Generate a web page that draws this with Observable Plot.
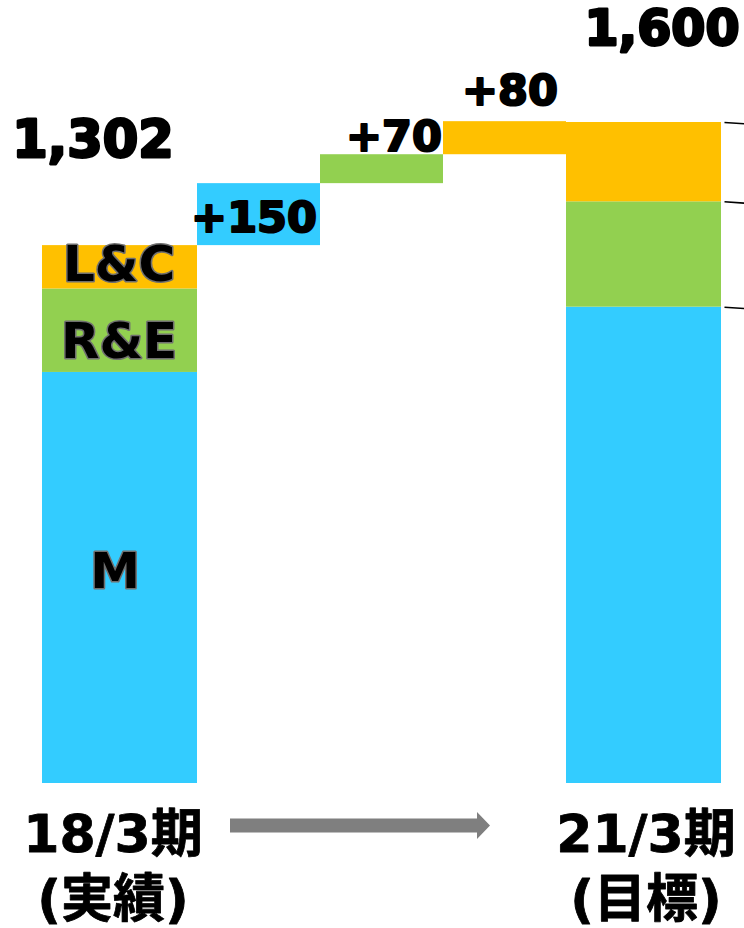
<!DOCTYPE html>
<html>
<head>
<meta charset="utf-8">
<script src="https://cdn.jsdelivr.net/npm/d3@7"></script>
<script src="https://cdn.jsdelivr.net/npm/@observablehq/plot@0.6"></script>
<style>
  html, body { margin: 0; padding: 0; background: #fff; overflow: hidden; }
</style>
</head>
<body>
<div id="chart"></div>
<script>
// Segments, stacked bottom to top
const segmentNames = ["M", "R&E", "L&C"];
const segmentColors = ["#33CCFF", "#92D050", "#FFC000"];

// 18/3期 actual and 21/3期 target, by segment
const actualBySegment = [995, 202, 105];
const targetBySegment = [1153, 255, 192];

// Planned increase per segment
const increaseBySegment = [150, 70, 80];
const increaseLabels = ["+150", "+70", "+80"];

// Period totals and their labels
const periodNames = ["18/3期\n(実績)", "21/3期\n(目標)"];
const periodTotals = [1302, 1600];
const totalLabels = ["1,302", "1,600"];

// ---- layout: column widths along a unitless x axis ----
const totalColumn = 155, stepColumn = 123;
const columns = [totalColumn, stepColumn, stepColumn, stepColumn, totalColumn];
const edges = Array.from(d3.cumsum([0, ...columns]));
const lastEdge = edges[edges.length - 1];
const mid = d => (d.x1 + d.x2) / 2;

function stackColumn(values, col) {
  let y = 0;
  return values.map((v, i) => ({
    x1: edges[col], x2: edges[col + 1],
    y1: y, y2: (y += v),
    fill: segmentColors[i], name: segmentNames[i]
  }));
}

const actualStack = stackColumn(actualBySegment, 0);
const targetStack = stackColumn(targetBySegment, 4);

let level = periodTotals[0];
const steps = increaseBySegment.map((v, i) => ({
  x1: edges[i + 1], x2: edges[i + 2],
  y1: level, y2: (level += v),
  fill: segmentColors[i], label: increaseLabels[i]
}));

const totals = periodTotals.map((v, i) => {
  const col = i === 0 ? 0 : 4;
  return {x1: edges[col], x2: edges[col + 1], value: v, label: totalLabels[i], period: periodNames[i]};
});

const numberFont = "DejaVu Sans, Verdana, sans-serif";
const periodFont = "DejaVu Sans, Noto Sans CJK JP, sans-serif";

// label nudges (dx, dy) in pixels
const insideNudge = [[-5, -6], [-1, 11], [-1, -2]];
const stepNudge = [[-5, 48], [12, -4], [5, -17]];
const totalNudge = [[-27, -89, 51], [18, -78, 49]];
const periodNudge = [-7, 2];

// heavier strokes for the numbers
const heavy = {fill: "#000", stroke: "#000", strokeWidth: 2.2, paintOrder: "stroke", strokeLinejoin: "round"};

// block arrow between the two periods
const arrowFrom = 188, arrowTo = 448;
function periodArrow(index, scales, values, dimensions) {
  const xa = scales.x(arrowFrom), xb = scales.x(arrowTo);
  const cy = dimensions.height - dimensions.marginBottom + 42.5;
  const shaft = 7, head = 13.5, headLen = 13;
  const p = d3.path();
  p.moveTo(xa, cy - shaft);
  p.lineTo(xb - headLen, cy - shaft);
  p.lineTo(xb - headLen, cy - head);
  p.lineTo(xb, cy);
  p.lineTo(xb - headLen, cy + head);
  p.lineTo(xb - headLen, cy + shaft);
  p.lineTo(xa, cy + shaft);
  p.closePath();
  return d3.create("svg:path").attr("d", p.toString()).attr("fill", "#7F7F7F").node();
}

const chart = Plot.plot({
  width: 744,
  height: 928,
  marginLeft: 42,
  marginRight: 744 - 42 - lastEdge,
  marginTop: 122,
  marginBottom: 145,
  style: {background: "#fff", overflow: "hidden"},
  x: {domain: [0, lastEdge], axis: null},
  y: {domain: [0, periodTotals[1]], axis: null},
  color: {type: "identity"},
  marks: [
    Plot.rect([...actualStack, ...steps, ...targetStack], {
      x1: "x1", x2: "x2", y1: "y1", y2: "y2", fill: "fill"
    }),
    // leader lines off the target column
    Plot.link(targetStack, {
      x1: () => lastEdge + 3, x2: () => lastEdge + 40,
      y1: "y2", y2: d => d.y2 - 6,
      stroke: "#000", strokeWidth: 1.5
    }),
    // segment names inside the actual column
    ...actualStack.map((d, i) => Plot.text([d], {
      x: mid, y: d => (d.y1 + d.y2) / 2, text: "name",
      dx: insideNudge[i][0], dy: insideNudge[i][1],
      fontSize: 50, fontWeight: "bold", fontFamily: numberFont,
      fill: "#000", stroke: "#6f6f6f", strokeWidth: 3, paintOrder: "stroke", strokeLinejoin: "round"
    })),
    // increase labels
    ...steps.map((d, i) => Plot.text([d], {
      x: mid, y: "y2", text: "label", lineAnchor: "bottom",
      dx: stepNudge[i][0], dy: stepNudge[i][1],
      fontSize: 43, fontWeight: "bold", fontFamily: numberFont, ...heavy
    })),
    // totals
    ...totals.map((d, i) => Plot.text([d], {
      x: mid, y: "value", text: "label", lineAnchor: "bottom",
      dx: totalNudge[i][0], dy: totalNudge[i][1],
      fontSize: totalNudge[i][2], fontWeight: "bold", fontFamily: numberFont, ...heavy, strokeWidth: 2.8
    })),
    // period names under the columns
    ...totals.map((d, i) => Plot.text([d], {
      x: mid, y: () => 0, text: "period", lineAnchor: "top", lineHeight: 1.24,
      dx: periodNudge[i], dy: 23,
      fontSize: 52, fontWeight: "bold", fontFamily: periodFont,
      fill: "#000", stroke: "#000", strokeWidth: 0.8, paintOrder: "stroke"
    })),
    periodArrow
  ]
});

document.getElementById("chart").appendChild(chart);
</script>
</body>
</html>
